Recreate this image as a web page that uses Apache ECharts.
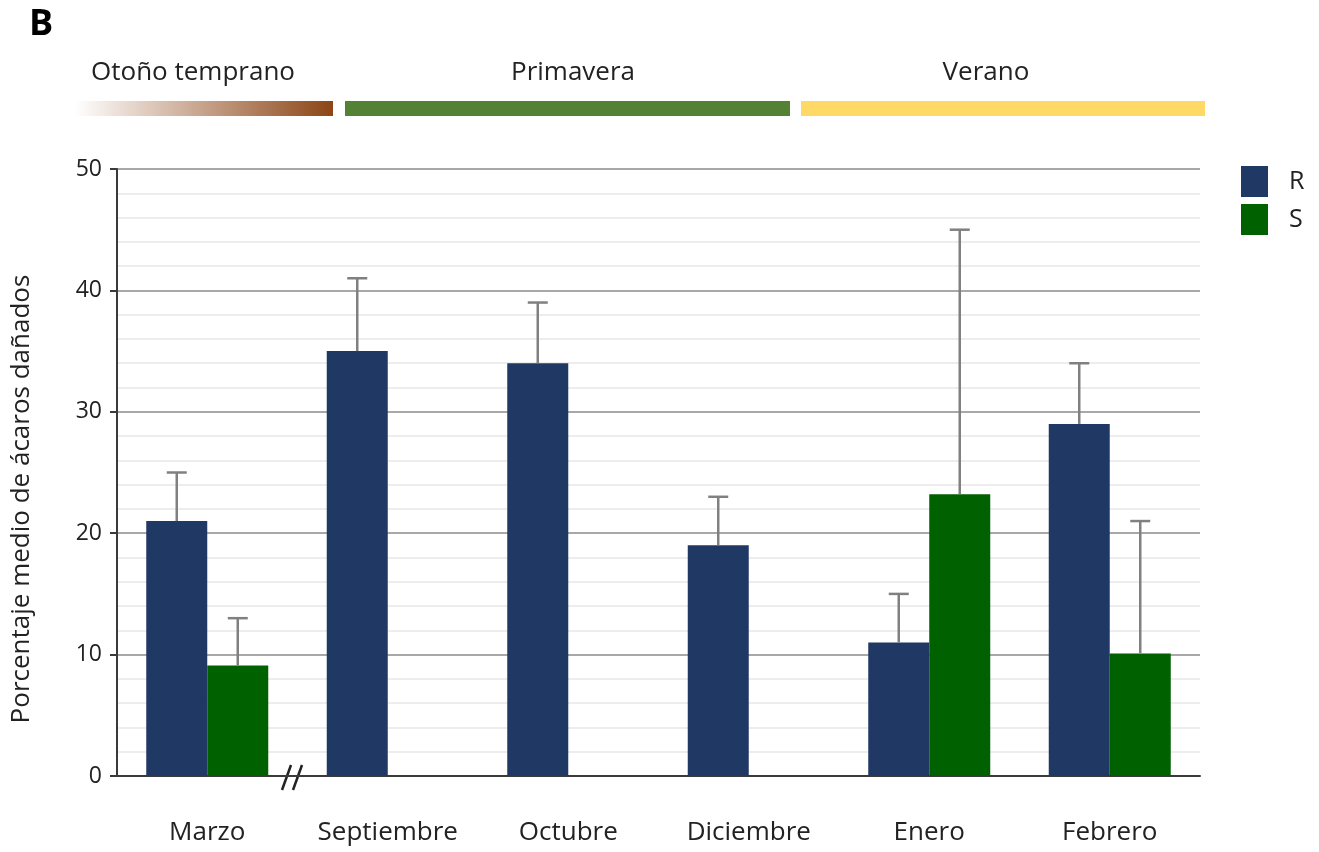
<!DOCTYPE html>
<html>
<head>
<meta charset="utf-8">
<script src="https://cdn.jsdelivr.net/npm/echarts@6/dist/echarts.min.js"></script>
<style>
  html, body { margin: 0; padding: 0; background: #fff; }
  #chart { width: 1319px; height: 852px; }
</style>
</head>
<body>
<div id="chart"></div>
<script>
// Mean percentage of damaged mites per month, R and S groups
const categories = ['Marzo', 'Septiembre', 'Octubre', 'Diciembre', 'Enero', 'Febrero'];
const rValues = [21, 35, 34, 19, 11, 29];
const rErr = [4, 6, 5, 4, 4, 5];
const sValues = [9.1, null, null, null, 23.2, 10.1];
const sErr = [3.9, null, null, null, 21.8, 10.9];
const seasonLabels = ['Otoño temprano', 'Primavera', 'Verano'];
const yMin = 0, yMax = 50, yStep = 10;

const FONT = 'Open Sans';
const BAR_W = 61;

function errorData(vals, errs) {
  const out = [];
  vals.forEach((v, i) => {
    if (v != null && errs[i] != null) out.push([i, v, v + errs[i]]);
  });
  return out;
}

function errorSeries(vals, errs, offset) {
  return {
    type: 'custom',
    z: 5,
    data: errorData(vals, errs),
    encode: { x: 0, y: [1, 2] },
    renderItem: function (params, api) {
      const base = api.coord([api.value(0), api.value(1)]);
      const top = api.coord([api.value(0), api.value(2)]);
      const x = base[0] + offset;
      const style = { stroke: '#808080', lineWidth: 2.5 };
      return {
        type: 'group',
        children: [
          { type: 'line', shape: { x1: x, y1: base[1], x2: x, y2: top[1] }, style: style },
          { type: 'line', shape: { x1: x - 10, y1: top[1], x2: x + 10, y2: top[1] }, style: style }
        ]
      };
    }
  };
}

const chart = echarts.init(document.getElementById('chart'), null, { renderer: 'canvas' });

const option = {
  backgroundColor: '#fff',
  animation: false,
  textStyle: { fontFamily: FONT },
  grid: { left: 117, right: 119, top: 169, bottom: 76, containLabel: false },
  legend: {
    orient: 'vertical',
    left: 1236,
    top: 161,
    itemWidth: 27,
    itemHeight: 31,
    itemGap: 7,
    icon: 'rect',
    data: ['R', 'S'],
    textStyle: { fontFamily: FONT, fontSize: 25, color: '#222', padding: [0, 0, 0, 16] }
  },
  xAxis: {
    type: 'category',
    data: categories,
    axisLine: { show: true, lineStyle: { color: '#3a3a3a', width: 2 } },
    axisTick: { show: false },
    axisLabel: { fontFamily: FONT, fontSize: 26, color: '#222', margin: 44, interval: 0, hideOverlap: false },
    splitLine: { show: false }
  },
  yAxis: {
    type: 'value',
    min: yMin,
    max: yMax,
    interval: yStep,
    axisLine: { show: true, lineStyle: { color: '#3a3a3a', width: 2 } },
    axisTick: { show: true, length: 7, lineStyle: { color: '#3a3a3a', width: 2 } },
    axisLabel: { fontFamily: FONT, fontSize: 23, color: '#222', margin: 15 },
    splitLine: { show: true, lineStyle: { color: '#a8a8a8', width: 2 } },
    minorTick: { show: false, splitNumber: 5 },
    minorSplitLine: { show: true, lineStyle: { color: '#ededed', width: 2 } }
  },
  series: [
    {
      name: 'R',
      type: 'bar',
      data: rValues,
      barWidth: BAR_W,
      barGap: '0%',
      itemStyle: { color: '#1f3864' },
      z: 3
    },
    {
      name: 'S',
      type: 'bar',
      data: sValues,
      barWidth: BAR_W,
      barGap: '0%',
      itemStyle: { color: '#006100' },
      z: 3
    },
    errorSeries(rValues, rErr, -BAR_W / 2),
    errorSeries(sValues, sErr, BAR_W / 2)
  ],
  graphic: [
    // panel letter
    { type: 'text', left: 29, top: 7, style: { text: 'B', font: 'bold 36px "' + FONT + '"', fill: '#000' } },
    // season bands
    {
      type: 'rect', shape: { x: 75, y: 101, width: 258, height: 15 },
      style: {
        fill: new echarts.graphic.LinearGradient(0, 0, 1, 0, [
          { offset: 0, color: '#ffffff' },
          { offset: 1, color: '#8c4516' }
        ])
      }
    },
    { type: 'rect', shape: { x: 345, y: 101, width: 445, height: 15 }, style: { fill: '#548235' } },
    { type: 'rect', shape: { x: 801, y: 101, width: 404, height: 15 }, style: { fill: '#ffd966' } },
    { type: 'text', x: 193, y: 73, style: { text: seasonLabels[0], font: '26px "' + FONT + '"', fill: '#222', align: 'center', verticalAlign: 'middle' } },
    { type: 'text', x: 573, y: 73, style: { text: seasonLabels[1], font: '26px "' + FONT + '"', fill: '#222', align: 'center', verticalAlign: 'middle' } },
    { type: 'text', x: 986, y: 73, style: { text: seasonLabels[2], font: '26px "' + FONT + '"', fill: '#222', align: 'center', verticalAlign: 'middle' } },
    // y-axis title
    {
      type: 'text', x: 22, y: 499, rotation: Math.PI / 2,
      style: { text: 'Porcentaje medio de ácaros dañados', font: '26px "' + FONT + '"', fill: '#222', align: 'center', verticalAlign: 'middle' }
    },
    // axis break mark
    { type: 'line', shape: { x1: 282, y1: 790, x2: 291, y2: 765 }, style: { stroke: '#222', lineWidth: 2.5 } },
    { type: 'line', shape: { x1: 293, y1: 790, x2: 302, y2: 765 }, style: { stroke: '#222', lineWidth: 2.5 } }
  ]
};

chart.setOption(option);
</script>
</body>
</html>
